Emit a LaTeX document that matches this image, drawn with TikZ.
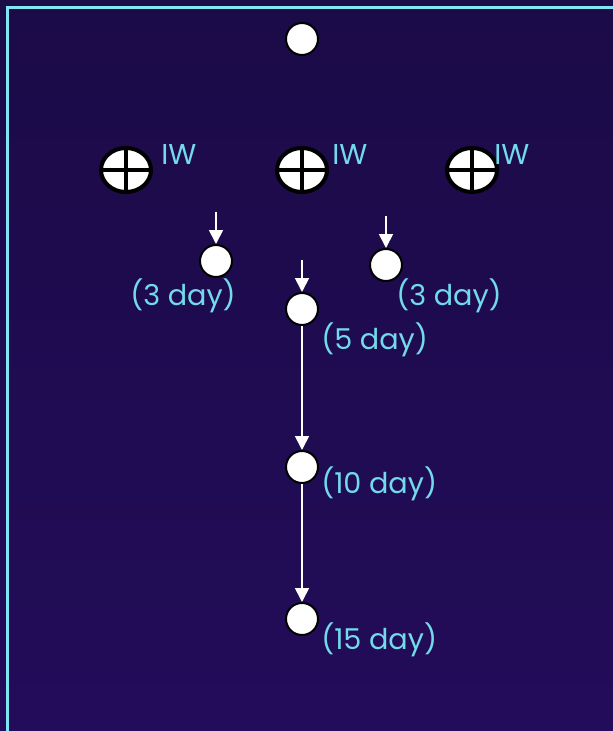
\documentclass[tikz,border=0pt]{standalone}
\usepackage{fontspec}
\setmainfont{Poppins}
\usetikzlibrary{shapes.geometric,arrows.meta}
\definecolor{bgtop}{HTML}{1B0B47}
\definecolor{bgbot}{HTML}{230C5A}
\definecolor{frame}{HTML}{80E4F2}
\definecolor{lbl}{HTML}{72DAEA}
% one unit = 0.75pt throughout
\tikzset{
  well/.style={circle,draw=black,fill=white,line width=1.5pt,minimum size=24pt,inner sep=0pt},
  injector/.style={ellipse,draw=black,fill=white,line width=3pt,minimum width=37.5pt,minimum height=33pt,inner sep=0pt,
    path picture={\draw[line width=2.4pt] (path picture bounding box.north) -- (path picture bounding box.south)
      (path picture bounding box.west) -- (path picture bounding box.east);}},
  tag/.style={text=lbl,font=\fontsize{21.5}{25}\selectfont,inner sep=0pt},
  flow/.style={draw=white,line width=1.3pt,-{Triangle[width=10.5pt,length=10.5pt]}}
}
\begin{document}
\begin{tikzpicture}[x=0.75pt,y=-0.75pt]
  % background and frame
  \shade[top color=bgtop,bottom color=bgbot] (0,0) rectangle (613,731);
  \useasboundingbox (0,0) rectangle (613,731);
  \draw[frame,line width=2.25pt] (7.5,735) -- (7.5,7.5) -- (620,7.5);

  % producer at the top
  \node[well] (top) at (302,39) {};

  % injection wells
  \node[injector] (i1) at (126,170) {};
  \node[injector] (i2) at (302,170) {};
  \node[injector] (i3) at (472,170) {};
  \node[tag,anchor=base west] (t1) at (161,165) {IW};
  \node[tag,anchor=base west] (t2) at (332,165) {IW};
  \node[tag,anchor=base west] (t3) at (494,165) {IW};

  % observation wells
  \node[well] (w3a) at (216,261) {};
  \node[well] (w3b) at (386,265) {};
  \node[well] (w5) at (302,309) {};
  \node[well] (w10) at (302,467) {};
  \node[well] (w15) at (302,619) {};

  \node[tag,anchor=base west] (l3a) at (130,305) {(3 day)};
  \node[tag,anchor=base west] (l3b) at (396,305) {(3 day)};
  \node[tag,anchor=base west] (l5) at (321,349) {(5 day)};
  \node[tag,anchor=base west] (l10) at (321,493) {(10 day)};
  \node[tag,anchor=base west] (l15) at (321,649) {(15 day)};

  % flow arrows
  \coordinate (s3a) at (216,212);
  \coordinate (s3b) at (386,216);
  \coordinate (s5) at (302,260);
  \draw[flow] (s3a) -- (w3a);
  \draw[flow] (s3b) -- (w3b);
  \draw[flow] (s5) -- (w5);
  \draw[flow] (w5) -- (w10);
  \draw[flow] (w10) -- (w15);
\end{tikzpicture}
\end{document}
